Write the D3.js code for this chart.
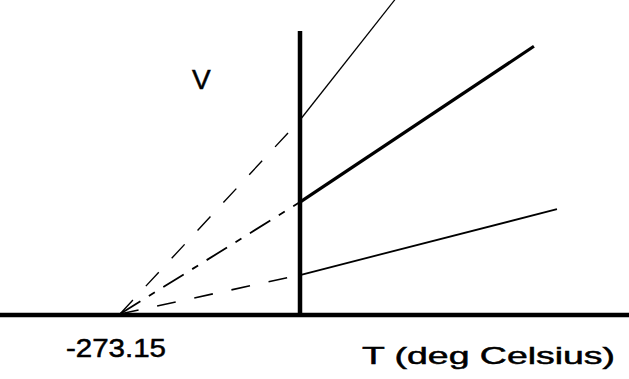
<!DOCTYPE html>
<html>
  <head>
    <meta charset="utf-8">
    <title>V vs T</title>
    <script src="https://d3js.org/d3.v7.min.js"></script>
    <style>
      body { margin: 0; background: #fff; }
      svg { display: block; }
      text { font-family: "Liberation Sans", Arial, sans-serif; fill: #000; stroke: #000; stroke-width: 0.5px; }
    </style>
  </head>
  <body>
    <svg id="canvas" width="629" height="379"></svg>

    <script>
      // temperatures (deg C) at the absolute-zero point, at 0 and at the right end of each line
      var ABS_ZERO = -273.15;
      var topLine    = [[ABS_ZERO, 0], [0, 100], [144, 162]];
      var middleLine = [[ABS_ZERO, 0], [0, 57.7], [355, 138]];
      var bottomLine = [[ABS_ZERO, 0], [0, 20.1], [390, 54]];

      var xLabel = "T (deg Celsius)";
      var yLabel = "V";
      var zeroLabel = "-273.15";

      var svg = d3.select("#canvas");

      var x = d3.scaleLinear().domain([ABS_ZERO, 0]).range([120, 300]);
      var y = d3.scaleLinear().domain([0, 100]).range([314, 120]);

      var line = d3.line()
        .x(function(d){ return x(d[0]); })
        .y(function(d){ return y(d[1]); });

      // each line: dashed part left of T=0, solid part to the right
      var series = [
        {data: topLine,    solidWidth: 1.3, dash: "19,19",        dashWidth: 1.4},
        {data: middleLine, solidWidth: 3.2, dash: "24,10,7,10",   dashWidth: 1.8},
        {data: bottomLine, solidWidth: 1.8, dash: "19,19",        dashWidth: 1.6}
      ];

      series.forEach(function(s){
        svg.append("path")
          .attr("d", line(s.data.slice(0, 2)))
          .attr("fill", "none")
          .attr("stroke", "#000")
          .attr("stroke-width", s.dashWidth)
          .attr("stroke-dasharray", s.dash);

        svg.append("path")
          .attr("d", line(s.data.slice(1)))
          .attr("fill", "none")
          .attr("stroke", "#000")
          .attr("stroke-width", s.solidWidth);
      });

      // axes
      svg.append("line")
        .attr("x1", 0).attr("x2", 629)
        .attr("y1", y(0) + 1).attr("y2", y(0) + 1)
        .attr("stroke", "#000")
        .attr("stroke-width", 4.5);

      svg.append("line")
        .attr("x1", x(0)).attr("x2", x(0))
        .attr("y1", 31).attr("y2", y(0))
        .attr("stroke", "#000")
        .attr("stroke-width", 4.5);

      // labels
      svg.append("text")
        .attr("x", 192).attr("y", 89)
        .style("font-size", "28px")
        .text(yLabel);

      svg.append("text")
        .attr("x", 66).attr("y", 357)
        .attr("textLength", 100)
        .attr("lengthAdjust", "spacingAndGlyphs")
        .style("font-size", "25px")
        .text(zeroLabel);

      svg.append("text")
        .attr("x", 362).attr("y", 364)
        .attr("textLength", 253)
        .attr("lengthAdjust", "spacingAndGlyphs")
        .style("font-size", "24px")
        .text(xLabel);
    </script>
  </body>
</html>
